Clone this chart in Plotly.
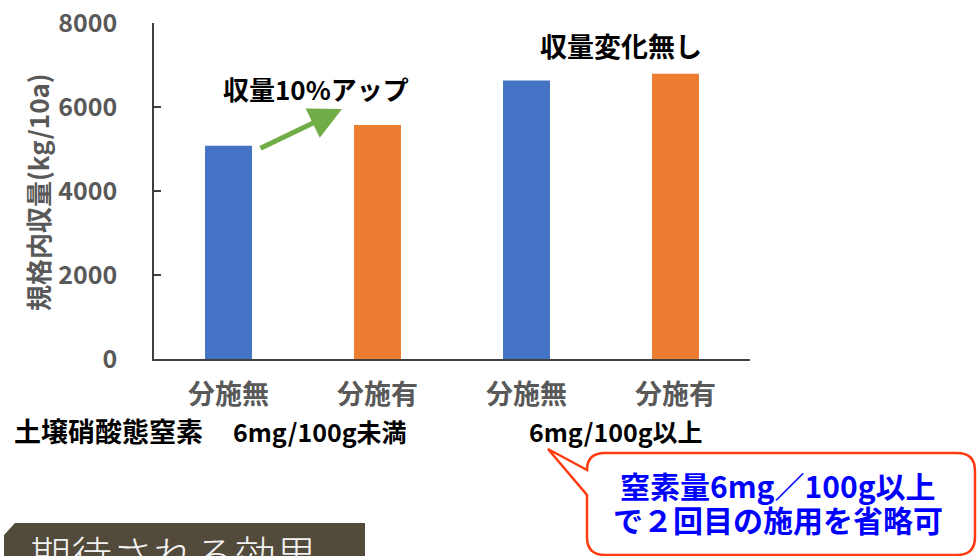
import plotly.graph_objects as go

# ---- data ----
x_pos = [0, 1, 2, 3]
tick_labels = ["分施無", "分施有", "分施無", "分施有"]
yield_values = [5080, 5570, 6630, 6790]
bar_colors = ["#4472C4", "#ED7D31", "#4472C4", "#ED7D31"]
y_ticks = [0, 2000, 4000, 6000, 8000]
group_labels = ["6mg/100g未満", "6mg/100g以上"]

FONT = "Noto Sans CJK JP"
W, H = 977, 556
L, R, T, B = 154, 750, 23, 359


def px(x):
    return (x - L) / (R - L)


def py(y):
    return (B - y) / (B - T)


fig = go.Figure()
fig.add_trace(go.Bar(
    x=x_pos, y=yield_values, marker=dict(color=bar_colors, line=dict(width=0)),
    width=0.315, showlegend=False, hoverinfo="skip",
))

fig.update_layout(
    width=W, height=H,
    margin=dict(l=L, r=W - R, t=T, b=H - B, pad=0, autoexpand=False),
    paper_bgcolor="white", plot_bgcolor="white",
    font=dict(family=FONT),
    xaxis=dict(
        range=[-0.5, 3.5], tickvals=x_pos, ticktext=tick_labels,
        showline=True, linecolor="#404040", linewidth=1.5, ticks="",
        showgrid=False, zeroline=False, automargin=False,
        tickfont=dict(family=FONT, size=27, color="#595959", weight="bold"),
        ticklabelstandoff=11,
    ),
    yaxis=dict(
        range=[0, 8000], tickvals=y_ticks, ticktext=[str(v) for v in y_ticks],
        showline=True, linecolor="#404040", linewidth=1.5,
        ticks="inside", ticklen=7, tickcolor="#404040", tickwidth=1.5,
        showgrid=False, zeroline=False, automargin=False,
        tickfont=dict(family=FONT, size=25, color="#595959", weight="bold"),
        ticklabelstandoff=30,
    ),
)


def label(xp, yp, text, size, color, weight="bold", xanchor="center", **kw):
    return dict(x=px(xp), y=py(yp), xref="paper", yref="paper", text=text,
                showarrow=False, xanchor=xanchor, yanchor="middle",
                font=dict(family=FONT, size=size, color=color, weight=weight), **kw)


ann = [
    label(37, 192, "規格内収量(kg/10a)", 26, "#595959", textangle=-90),
    label(316, 88, "収量10%アップ", 26, "black"),
    label(621, 45, "収量変化無し", 27, "black"),
    label(12, 431, "土壌硝酸態窒素", 27, "black", xanchor="left"),
    label(320, 431, group_labels[0], 25, "black"),
    label(616, 431, group_labels[1], 25, "black"),
    label(778, 485, "窒素量6mg／100g以上", 30, "#0000FF"),
    label(778, 519, "で２回目の施用を省略可", 30, "#0000FF"),
    label(28, 553, "期待される効果", 41, "#F2F2F2", weight=300, xanchor="left"),
    # green arrow
    dict(x=px(342), y=py(109), xref="paper", yref="paper", text="",
         showarrow=True, ax=-83, ay=40, arrowhead=2, arrowsize=1.3,
         arrowwidth=5, arrowcolor="#70AD47", standoff=0),
]
fig.update_layout(annotations=ann)


def path_from(cmds):
    out = []
    for cmd in cmds:
        if cmd[0] == "Z":
            out.append("Z")
        else:
            coords = cmd[1:]
            pts = " ".join(f"{px(coords[i]):.5f},{py(coords[i+1]):.5f}" for i in range(0, len(coords), 2))
            out.append(f"{cmd[0]} {pts}")
    return " ".join(out)


callout = path_from([
    ("M", 587, 470), ("L", 548, 449), ("L", 587, 495), ("L", 587, 537),
    ("Q", 587, 555, 605, 555), ("L", 957, 555), ("Q", 975, 555, 975, 537),
    ("L", 975, 471), ("Q", 975, 453, 957, 453), ("L", 605, 453),
    ("Q", 587, 453, 587, 470), ("Z",),
])
banner = path_from([
    ("M", 4, 535), ("L", 15, 523), ("L", 365, 523), ("L", 365, 570), ("L", 4, 570), ("Z",),
])
fig.update_layout(shapes=[
    dict(type="path", path=callout, xref="paper", yref="paper",
         line=dict(color="#FF3B10", width=2.5), fillcolor="white", layer="below"),
    dict(type="path", path=banner, xref="paper", yref="paper",
         line=dict(width=0), fillcolor="#524A3A", layer="below"),
])

fig.write_html("out.html", config={"displayModeBar": False},
               post_script="document.body.style.margin='0';")
